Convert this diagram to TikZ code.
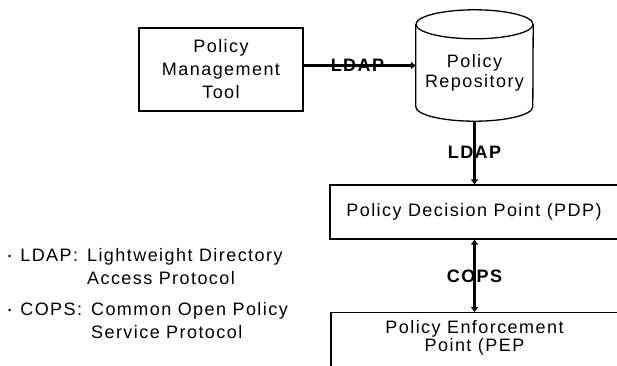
\documentclass[tikz,border=0pt]{standalone}
\usepackage{fontspec}
\setmainfont{Liberation Sans}[LetterSpace=8]
\usetikzlibrary{positioning}
\usetikzlibrary{arrows.meta}

\tikzset{
  box/.style={draw,line width=1.3pt,inner sep=0pt,align=center,font=\fontsize{18}{23}\selectfont},
  link/.style={line width=3.2pt,-{Triangle[length=5pt,width=7pt]}},
  proto/.style={font=\bfseries\fontsize{18}{18}\selectfont,inner sep=0pt},
  note/.style={anchor=west,inner sep=0pt,font=\fontsize{18}{23}\selectfont}
}
\newcommand{\dotmark}{\raisebox{2pt}{\fontsize{9}{9}\selectfont\textbullet}}

\begin{document}
\begin{tikzpicture}[x=1pt,y=-1pt]
 \clip (0,0) rectangle (617,365);
 % boxes
 \node[box,minimum width=164pt,minimum height=83pt] (pmt) at (221,69.5) {Policy\\Management\\Tool};
 \node[minimum width=117pt,minimum height=111pt,inner sep=0pt] (repo) at (474.5,65.5) {};
 \node[box,draw=none,font=\fontsize{18}{20}\selectfont] (repotxt) at ([yshift=-7.5pt]repo.center) {Policy\\Repository};
 \draw[line width=1.3pt] ([yshift=-14.5pt]repo.north) ellipse [x radius=58.5pt,y radius=14.5pt];
 \draw[line width=1.3pt] ([yshift=-14.5pt]repo.north west) -- ([yshift=14.5pt]repo.south west)
   arc[start angle=180,end angle=360,x radius=58.5pt,y radius=14.5pt] -- ([yshift=-14.5pt]repo.north east);
 \node[box,minimum width=288pt,minimum height=54pt] (pdp) at (474,212) {Policy Decision Point (PDP)};
 \node[box,minimum width=287pt,anchor=north,inner ysep=8pt,text depth=15pt,font=\fontsize{18}{18}\selectfont] (pep) at (474.5,312) {Policy Enforcement\\Point (PEP};
 % protocols
 \draw[link] (pmt.east |- repo.west) -- (repo.west) node[proto,pos=0.48] (ldap1) {LDAP};
 \draw[link] (repo.south) -- (repo.south |- pdp.north) node[proto,midway] (ldap2) {LDAP};
 \draw[link,{Triangle[length=5pt,width=7pt]}-{Triangle[length=5pt,width=7pt]}] (pdp.south -| repo.south) -- (pep.north -| repo.south) node[proto,midway] (cops) {COPS};
 % legend
 \node[note] (ldapnote) at (8,268.5) {\begin{tabular}{@{}l@{\hspace{9pt}}l@{\hspace{9pt}}l@{}}\dotmark & LDAP: & Lightweight Directory\\ & & Access Protocol\end{tabular}};
 \node[note] (copsnote) at (8,322.5) {\begin{tabular}{@{}l@{\hspace{9pt}}l@{\hspace{9pt}}l@{}}\dotmark & COPS: & Common Open Policy\\ & & Service Protocol\end{tabular}};
\end{tikzpicture}
\end{document}
